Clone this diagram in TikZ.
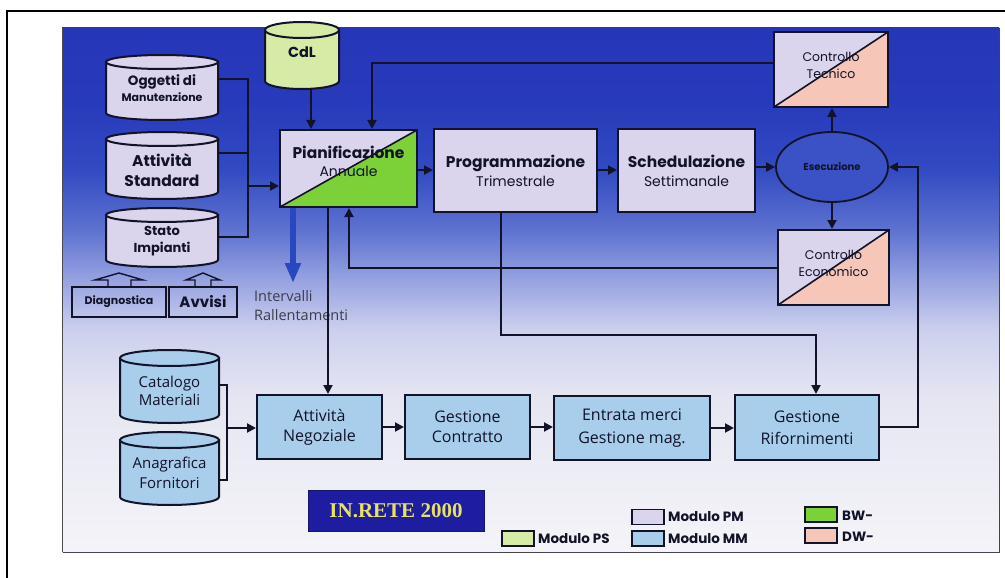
\documentclass[tikz,border=0pt]{standalone}
\usepackage{fontspec}
\usetikzlibrary{shapes.geometric,arrows.meta,calc}
\newfontfamily\fut{Poppins}
\newfontfamily\tah{Open Sans}
\newfontfamily\tim{Liberation Serif}
\newcommand\pbf[2]{\fut\bfseries\fontsize{#1}{#2}\selectfont}
\newcommand\prm[2]{\fut\mdseries\fontsize{#1}{#2}\selectfont}
\newcommand\osr[2]{\tah\mdseries\fontsize{#1}{#2}\selectfont}
\definecolor{lc}{RGB}{18,18,40}
\definecolor{pm}{RGB}{218,212,236}
\definecolor{mm}{RGB}{168,206,236}
\definecolor{ps}{RGB}{214,236,166}
\definecolor{bw}{RGB}{124,208,56}
\definecolor{dw}{RGB}{246,198,184}
\definecolor{esc}{RGB}{58,82,198}
\definecolor{inr}{RGB}{30,28,160}
\definecolor{inrt}{RGB}{232,226,100}
\definecolor{bluear}{RGB}{40,72,192}
\definecolor{txtgray}{RGB}{60,60,75}
\definecolor{gA}{RGB}{244,244,248}
\definecolor{gB}{RGB}{230,230,242}
\definecolor{gC}{RGB}{204,208,238}
\definecolor{gD}{RGB}{150,162,224}
\definecolor{gE}{RGB}{94,114,208}
\definecolor{gF}{RGB}{50,74,194}
\definecolor{gG}{RGB}{40,58,188}
\definecolor{gH}{RGB}{38,54,184}
\pgfdeclareverticalshading{bgshade}{100bp}{color(0bp)=(gA); color(25bp)=(gA); color(39.5bp)=(gB); color(46.2bp)=(gC); color(51bp)=(gD); color(55.7bp)=(gE); color(61.5bp)=(gF); color(68bp)=(gG); color(75bp)=(gH); color(100bp)=(gH)}
% cylinder: name, x1, y1, x2, y2, ry, fill
\newcommand\cyl[7]{%
  \filldraw[conn, fill=#7] (#2,#3+#6) -- (#2,#5-#6) arc[start angle=180,end angle=0,x radius={(#4-#2)/2},y radius=#6] -- (#4,#3+#6) -- cycle;
  \filldraw[conn, fill=#7] ({(#2+#4)/2},#3+#6) ellipse[x radius={(#4-#2)/2},y radius=#6];
  \node[inner sep=0pt, minimum width={#4-#2}, minimum height={#5-#3}] (#1) at ({(#2+#4)/2},{(#3+#5)/2}) {};
}
\begin{document}
\begin{tikzpicture}[x=1pt,y=-1pt,
  conn/.style={draw=lc, line width=2pt},
  arr/.style={conn, -{Triangle[length=9pt,width=9pt]}},
  box/.style={draw=lc, line width=2pt, inner sep=0pt, align=center, text=lc},
  pmbox/.style={box, fill=pm},
  mmbox/.style={box, fill=mm},
  splitbox/.style={box, fill=pm, path picture={\fill[#1] (path picture bounding box.south west) -- (path picture bounding box.south east) -- (path picture bounding box.north east) -- cycle; \draw[lc, line width=1.6pt] (path picture bounding box.south west) -- (path picture bounding box.north east);}},
  txt/.style={inner sep=0pt, align=center, text=lc},
  swatch/.style={draw=lc, line width=1.4pt, minimum width=32, minimum height=15, inner sep=0pt},
  legend/.style={inner sep=0pt, anchor=west, text=lc},
  smallbox/.style={draw=lc, line width=1.5pt, inner sep=0pt, text=lc},
  hollow/.style={draw=lc, line width=1.4pt},
  bluearrow/.style={draw=bluear, line width=6pt, -{Triangle[length=20pt,width=15pt]}}
]
\useasboundingbox (0,0) rectangle (1005,578);
\fill[white] (0,0) rectangle (1005,578);
% scanned page background
\shade[shading=bgshade] (62,28) rectangle (999,552);
\draw[gray!60!black, line width=1pt] (62.5,28) -- (62.5,552);
\draw[lc!80, line width=1pt] (62.5,552) -- (999,552) -- (999,28);
% outer frame
\draw[black, line width=2.5pt] (7,578) -- (7,11) -- (1005,11);

% ---- cylinders (top) ----
\cyl{cdl}{265}{22}{339}{89}{8}{ps}
\node[txt] (cdl-t) at ([yshift=3pt]cdl.center) {\pbf{14.5}{17}CdL};
\cyl{ogg}{106}{55}{218}{120}{7}{pm}
\node[txt, font={\fontsize{10}{16}\selectfont}] (ogg-t) at ([yshift=-1pt]ogg.center) {\pbf{13.5}{16}Oggetti di\\\pbf{11}{16}Manutenzione};
\cyl{att}{106}{132}{218}{199}{7}{pm}
\node[txt, font={\fontsize{10}{20}\selectfont}] (att-t) at ([yshift=-4.5pt]att.center) {\pbf{15.5}{20}Attività\\\pbf{15.5}{20}Standard};
\cyl{stato}{106}{208}{218}{267}{7}{pm}
\node[txt, font={\fontsize{10}{17}\selectfont}] (stato-t) at ([yshift=-4pt]stato.center) {\pbf{13}{17}Stato\\\pbf{13}{17}Impianti};

% diagnostica / avvisi
\node[smallbox, minimum width=94, minimum height=30] (diag) at (119,302) {\pbf{11}{13}Diagnostica};
\node[smallbox, minimum width=68, minimum height=30] (avv) at (203,302) {\pbf{15}{17}Avvisi};
\draw[hollow] (108,287) -- (108,280) -- (95,280) -- (119,273) -- (143,280) -- (131,280) -- (131,287);
\draw[hollow] (195,287) -- (195,280) -- (186,280) -- (203,273) -- (220,280) -- (211,280) -- (211,287);

% ---- top row boxes ----
\node[splitbox=bw, minimum width=137, minimum height=77] (pian) at (348.5,168.5) {};
\node[txt, font={\fontsize{10}{18}\selectfont}] (pian-t) at ([yshift=7pt]pian.center) {\pbf{15.5}{18}Pianificazione\\\prm{14}{18}Annuale};
\node[pmbox, minimum width=163, minimum height=83, font={\fontsize{10}{19}\selectfont}] (prog) at (515.5,170.5) {\pbf{15.5}{19}Programmazione\\\prm{14}{19}Trimestrale};
\node[pmbox, minimum width=137, minimum height=83, font={\fontsize{10}{19}\selectfont}] (sched) at (686.5,170.5) {\pbf{15.5}{19}Schedulazione\\\prm{14}{19}Settimanale};
\node[ellipse, draw=lc, line width=1.8pt, fill=esc, minimum width=112, minimum height=70, inner sep=0pt, text=lc] (esec) at (832,167) {\pbf{10}{12}Esecuzione};
\node[splitbox=dw, minimum width=114, minimum height=75] (ct) at (831,69.5) {};
\node[txt, font={\fontsize{10}{17}\selectfont}] (ct-t) at ([yshift=4pt]ct.center) {\prm{12.5}{17}Controllo\\\prm{12.5}{17}Tecnico};
\node[splitbox=dw, minimum width=111, minimum height=75] (ce) at (833.5,267.5) {};
\node[txt, font={\fontsize{10}{17}\selectfont}] (ce-t) at ([yshift=4pt]ce.center) {\prm{12.5}{17}Controllo\\\prm{12.5}{17}Economico};

% ---- bottom row ----
\cyl{cat}{120}{350}{219}{423}{8}{mm}
\node[txt, font={\fontsize{10}{18}\selectfont}] (cat-t) at ([yshift=-4.5pt]cat.center) {\osr{15}{18}Catalogo\\\osr{15}{18}Materiali};
\cyl{ana}{120}{432}{219}{505}{8}{mm}
\node[txt, font={\fontsize{10}{20}\selectfont}] (ana-t) at ([yshift=-4.5pt]ana.center) {\osr{15}{20}Anagrafica\\\osr{15}{20}Fornitori};
\node[mmbox, minimum width=125, minimum height=64, font={\fontsize{10}{20}\selectfont}] (attneg) at (319.5,427) {\osr{16}{20}Attività\\\osr{16}{20}Negoziale};
\node[mmbox, minimum width=125, minimum height=64, font={\fontsize{10}{20}\selectfont}] (gc) at (467.5,427) {\osr{16}{20}Gestione\\\osr{16}{20}Contratto};
\node[mmbox, minimum width=156, minimum height=64, font={\fontsize{10}{23}\selectfont}] (ent) at (632,428) {\osr{16}{23}Entrata merci\\\osr{16}{23}Gestione mag.};
\node[mmbox, minimum width=144, minimum height=65, font={\fontsize{10}{22}\selectfont}] (rif) at (807,427.5) {\osr{16}{22}Gestione\\\osr{16}{22}Rifornimenti};

\node[fill=inr, draw=inr!70!black, line width=0.8pt, minimum width=176, minimum height=41, inner sep=0pt, text=inrt] (inrete) at (396,510.5) {\tim\bfseries\fontsize{21}{23}\selectfont IN.RETE 2000};

% legend
\node[swatch, fill=ps] (lps) at (518,538.5) {};
\node[legend] (lpst) at (538,539) {\pbf{13.5}{15}Modulo PS};
\node[swatch, fill=pm] (lpm) at (648,517) {};
\node[legend] (lpmt) at (668,517) {\pbf{13.5}{15}Modulo PM};
\node[swatch, fill=mm] (lmm) at (648,538.5) {};
\node[legend] (lmmt) at (668,539) {\pbf{13.5}{15}Modulo MM};
\node[swatch, fill=bw] (lbw) at (821,514.5) {};
\node[legend] (lbwt) at (842,516) {\pbf{13.5}{15}BW-};
\node[swatch, fill=dw] (ldw) at (821,535.5) {};
\node[legend] (ldwt) at (842,537) {\pbf{13.5}{15}DW-};

% Intervalli label
\node[inner sep=0pt, anchor=north west, align=left, text=txtgray, font={\fontsize{10}{19}\selectfont}] (ivltxt) at (254,290) {\osr{14.5}{19}Intervalli\\\osr{14.5}{19}Rallentamenti};

% ---- connectors ----
\coordinate (busT) at (248,79);
\coordinate (busM) at (248,153);
\coordinate (busB) at (248,237);
\coordinate (busA) at (248,186);
\draw[conn] (ogg.east |- busT) -- (busT) -- (busB) -- (stato.east |- busB);
\draw[conn] (att.east |- busM) -- (busM);
\draw[arr] (busA) -- (pian.west |- busA);

\coordinate (cdlx) at (311,0);
\draw[arr] (cdl.south -| cdlx) -- (pian.north -| cdlx);

\coordinate (ctt) at (372,63);
\draw[arr] (ct.west |- ctt) -- (ctt) -- (pian.north -| ctt);

\coordinate (pp) at (0,170);
\draw[arr] (pian.east |- pp) -- (prog.west |- pp);
\draw[arr] (prog.east |- pp) -- (sched.west |- pp);
\draw[arr] (sched.east |- esec.west) -- (esec.west);
\draw[arr] (esec.north) -- (esec.north |- ct.south);
\draw[arr] (esec.south) -- (esec.south |- ce.north);

\coordinate (cet) at (349,268);
\draw[arr] (ce.west |- cet) -- (cet) -- (pian.south -| cet);

\coordinate (pax) at (328,0);
\draw[arr] (pian.south -| pax) -- (attneg.north -| pax);

\coordinate (ivl) at (293,283);
\draw[bluearrow] (pian.south -| ivl) -- (ivl);

\coordinate (pr1) at (501,335);
\coordinate (pr2) at (816,335);
\draw[arr] (prog.south -| pr1) -- (pr1) -- (pr2) -- (rif.north -| pr2);

\coordinate (re1) at (918,427);
\draw[arr] (rif.east |- re1) -- (re1) -- (re1 |- esec.east) -- (esec.east);

\coordinate (cb1) at (227,385);
\coordinate (cb2) at (227,480);
\coordinate (cb3) at (227,428);
\draw[conn] (cat.east |- cb1) -- (cb1) -- (cb2) -- (ana.east |- cb2);
\draw[arr] (cb3) -- (attneg.west |- cb3);

\draw[arr] (attneg.east) -- (gc.west);
\draw[arr] (gc.east) -- (gc.east -| ent.west);
\draw[arr] (ent.east) -- (ent.east -| rif.west);
\end{tikzpicture}
\end{document}
